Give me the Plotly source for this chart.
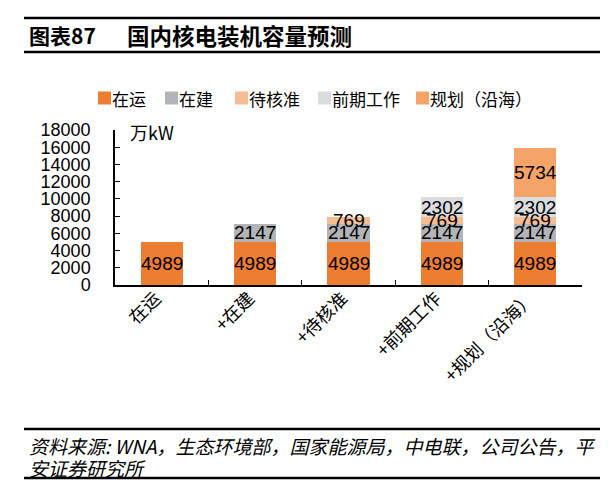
import plotly.graph_objects as go

categories = ["在运", "+在建", "+待核准", "+前期工作", "+规划（沿海）"]
series_names = ["在运", "在建", "待核准", "前期工作", "规划（沿海）"]
s_operating = [4989, 4989, 4989, 4989, 4989]
s_construction = [None, 2147, 2147, 2147, 2147]
s_pending = [None, None, 769, 769, 769]
s_preliminary = [None, None, None, 2302, 2302]
s_planned = [None, None, None, None, 5734]
series_values = [s_operating, s_construction, s_pending, s_preliminary, s_planned]
colors = ["#ED7D31", "#B2B4B7", "#F6BC94", "#DADCDF", "#F4A469"]
y_ticks = [0, 2000, 4000, 6000, 8000, 10000, 12000, 14000, 16000, 18000]

W, H = 608, 488
NUMF = "Liberation Sans, Arial, Noto Sans CJK SC"
CJK = "Noto Sans CJK SC, Liberation Sans"

px0, px1 = 107, 574
py0, py1 = 122, 277

fig = go.Figure()
shapes = []
for yy in (10, 44, 421, 470):
    shapes.append(dict(type="line", xref="paper", yref="paper",
                       x0=16 / W, x1=595 / W, y0=1 - yy / H, y1=1 - yy / H,
                       line=dict(color="black", width=2.5)))

# title
fig.add_annotation(x=19 / W, y=1 - 27 / H, xref="paper", yref="paper", text="<b>图表87</b>",
                   showarrow=False, xanchor="left", yanchor="middle",
                   font=dict(family=CJK, size=21, color="black"))
fig.add_annotation(x=117 / W, y=1 - 27 / H, xref="paper", yref="paper", text="<b>国内核电装机容量预测</b>",
                   showarrow=False, xanchor="left", yanchor="middle",
                   font=dict(family=CJK, size=22.5, color="black"))

# legend (built from the series names and colours)
leg_x = [90, 157, 227, 310, 408]
leg_y = 90
for lx, name, col in zip(leg_x, series_names, colors):
    shapes.append(dict(type="rect", xref="paper", yref="paper",
                       x0=lx / W, x1=(lx + 13) / W, y0=1 - (leg_y + 6.5) / H, y1=1 - (leg_y - 6.5) / H,
                       fillcolor=col, line=dict(width=0)))
    fig.add_annotation(x=(lx + 12) / W, y=1 - leg_y / H, xref="paper", yref="paper",
                       text=name, showarrow=False, xanchor="left", yanchor="middle",
                       font=dict(family=CJK, size=17, color="black"))

for name, vals, col in zip(series_names, series_values, colors):
    fig.add_trace(go.Bar(
        x=list(range(len(categories))), y=vals, name=name,
        marker=dict(color=col, line=dict(width=0)),
        width=0.45, showlegend=False, hoverinfo="skip",
    ))

# value labels, centred in each stacked segment (data coordinates)
label_x, label_y, label_t = [], [], []
base = [0] * len(categories)
for vals in series_values:
    for i, v in enumerate(vals):
        if v is None:
            continue
        label_x.append(i)
        label_y.append(base[i] + v / 2)
        label_t.append(f"{v:d}")
        base[i] += v
for lx_, ly_, lt_ in reversed(list(zip(label_x, label_y, label_t))):
    fig.add_annotation(x=lx_, y=ly_, xref="x", yref="y",
                       text=lt_, showarrow=False, xanchor="center", yanchor="middle",
                       font=dict(family=NUMF, size=19, color="black"))

fig.update_layout(
    template="none",
    width=W, height=H,
    margin=dict(l=0, r=0, t=0, b=0),
    paper_bgcolor="white", plot_bgcolor="white",
    barmode="stack",
    xaxis=dict(domain=[px0 / W, px1 / W], type="linear", range=[-0.5, len(categories) - 0.5],
               showline=True, linecolor="black", linewidth=1.5,
               ticks="", showticklabels=True,
               tickvals=list(range(len(categories))), ticktext=categories,
               tickangle=-45, tickfont=dict(family=CJK, size=18, color="black"),
               showgrid=False, zeroline=False, automargin=False,
               ticklabelstandoff=-6, ticklabelshift=-6),
    xaxis2=dict(domain=[px0 / W, px1 / W], anchor="y", overlaying="x", type="linear",
                range=[-0.5, len(categories) - 0.5],
                tickvals=[i + 0.5 for i in range(len(categories) - 1)],
                ticks="inside", ticklen=5, tickcolor="black", tickwidth=1.2,
                showticklabels=False, showgrid=False, zeroline=False, showline=False,
                side="bottom"),
    yaxis=dict(domain=[1 - py1 / H, 1 - py0 / H], range=[0, 18000], tickvals=y_ticks,
               ticktext=[str(t) for t in y_ticks],
               showline=True, linecolor="black", linewidth=1.5,
               ticks="inside", ticklen=5, tickcolor="black", tickwidth=1.2,
               tickfont=dict(family=NUMF, size=18, color="black"),
               showgrid=False, zeroline=False, automargin=False, ticklabelstandoff=19),
)
# invisible trace so the boundary-tick axis is drawn
fig.add_trace(go.Scatter(x=[0], y=[0], xaxis="x2", yaxis="y", mode="markers",
                         marker=dict(opacity=0), showlegend=False, hoverinfo="skip"))

fig.update_layout(shapes=shapes)

# unit
fig.add_annotation(x=120 / W, y=1 - 124 / H, xref="paper", yref="paper", text="万kW",
                   showarrow=False, xanchor="left", yanchor="middle",
                   font=dict(family=CJK, size=18, color="black"))

# source
fig.add_annotation(x=19 / W, y=1 - 437 / H, xref="paper", yref="paper",
                   text="<i>资料来源: WNA，生态环境部，国家能源局，中电联，公司公告，平</i>",
                   showarrow=False, xanchor="left", yanchor="middle",
                   font=dict(family=CJK, size=19, color="black"))
fig.add_annotation(x=19 / W, y=1 - 459 / H, xref="paper", yref="paper",
                   text="<i>安证券研究所</i>",
                   showarrow=False, xanchor="left", yanchor="middle",
                   font=dict(family=CJK, size=19, color="black"))

fig.write_html("out.html")
